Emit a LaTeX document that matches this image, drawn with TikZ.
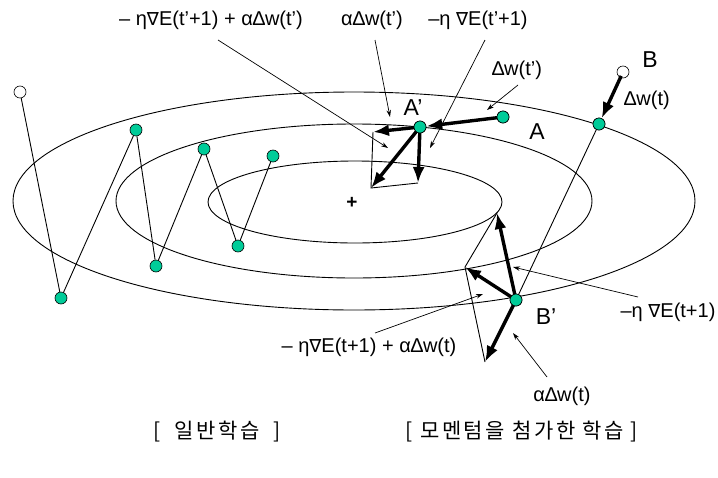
\documentclass[tikz,border=0pt]{standalone}
\usepackage{fontspec}
\setmainfont{Liberation Sans}
\newfontfamily\kofont[LetterSpace=12]{Noto Sans CJK KR}
\newfontfamily\symfont{DejaVu Sans}
\newcommand{\nabsym}{{\symfont\fontsize{18}{20}\selectfont ∇}}
\usetikzlibrary{arrows.meta}
\definecolor{ptgreen}{RGB}{0,204,153}
\tikzset{
  pt/.style={circle,draw=black,line width=0.6pt,fill=ptgreen,minimum size=12pt,inner sep=0pt},
  opt/.style={circle,draw=black,line width=0.6pt,fill=white,minimum size=12pt,inner sep=0pt},
  lbl/.style={font=\fontsize{20}{22}\selectfont,inner sep=0pt},
  biglbl/.style={font=\fontsize{23}{25}\selectfont,inner sep=0pt},
  kolbl/.style={font=\kofont\fontsize{21}{23}\selectfont,inner sep=0pt},
  contour/.style={line width=0.9pt},
  path/.style={line width=0.9pt},
  thickarr/.style={line width=3.4pt,-{Latex[length=16pt,width=12pt]},shorten <=-2pt},
  leader/.style={line width=0.7pt,-{Stealth[length=7pt,width=4.5pt]}},
}
\begin{document}
\begin{tikzpicture}[x=1pt,y=-1pt]
\useasboundingbox (0,0) rectangle (718,477);
% contours
\draw[contour] (354,201) ellipse [x radius=341pt, y radius=109pt];
\draw[contour] (354,201) ellipse [x radius=238pt, y radius=77pt];
\draw[contour] (355,202) ellipse [x radius=147pt, y radius=41pt];
\node[font=\fontsize{19}{21}\selectfont\bfseries,inner sep=0pt] (min) at (352,203) {+};

% ordinary learning path
\node[opt] (p0) at (20,92) {};
\node[pt] (p1) at (61,298) {};
\node[pt] (p2) at (136,130) {};
\node[pt] (p3) at (156,266) {};
\node[pt] (p4) at (204,149) {};
\node[pt] (p5) at (238,246) {};
\node[pt] (p6) at (273,156) {};
\draw[path] (p0) -- (p1) -- (p2) -- (p3) -- (p4) -- (p5) -- (p6);

% momentum: point A
\node[pt] (A) at (503,117) {};
\node[pt] (Ap) at (420,127) {};
\coordinate (a1) at (373,132);
\coordinate (a2) at (418,183);
\coordinate (a3) at (371,188);
\draw[path] (a1) -- (a3) -- (a2);
\draw[thickarr] (A) -- (Ap);
\draw[thickarr] (Ap) -- (a1);
\draw[thickarr] (Ap) -- (a2);
\draw[thickarr] (Ap) -- (a3);
\node[pt] at (A) {};
\node[pt] at (Ap) {};
\node[biglbl] (lA) at (537,132) {A};
\node[biglbl] (lAp) at (413,108) {A’};

% momentum: point B
\node[opt] (B) at (623,72) {};
\node[pt] (Bg) at (599,124) {};
\node[pt] (Bp) at (516,300) {};
\coordinate (b1) at (497,213);
\coordinate (b2) at (465,267);
\coordinate (b3) at (485,362);
\draw[path] (Bg) -- (Bp);
\draw[path] (b1) -- (b2) -- (b3);
\draw[thickarr] (B) -- (Bg);
\draw[thickarr] (Bp) -- (b1);
\draw[thickarr] (Bp) -- (b2);
\draw[thickarr] (Bp) -- (b3);
\node[pt] at (Bg) {};
\node[pt] at (Bp) {};
\node[biglbl] (lB) at (650,60) {B};
\node[biglbl] (lBp) at (546,317) {B’};

% labels
\node[lbl] (t1) at (211,20) {– η\nabsym E(t’+1) + α∆w(t’)};
\node[lbl] (t2) at (372,20) {α∆w(t’)};
\node[lbl] (t3) at (478,20) {–η \nabsym E(t’+1)};
\node[lbl] (t4) at (517,70) {∆w(t’)};
\node[lbl] (t5) at (647,100) {∆w(t)};
\node[lbl] (t6) at (668,312) {–η \nabsym E(t+1)};
\node[lbl] (t7) at (369,347) {– η\nabsym E(t+1) + α∆w(t)};
\node[lbl] (t8) at (562,396) {α∆w(t)};

\coordinate (s1) at (218,40);  \coordinate (e1) at (388,148);
\coordinate (s2) at (375,40);  \coordinate (e2) at (390,117);
\coordinate (s3) at (485,40);  \coordinate (e3) at (430,148);
\coordinate (s4) at (518,85);  \coordinate (e4) at (487,110);
\coordinate (s5) at (638,297); \coordinate (e5) at (513,267);
\coordinate (s6) at (375,333); \coordinate (e6) at (483,294);
\coordinate (s7) at (547,377); \coordinate (e7) at (513,333);
\draw[leader] (s1) -- (e1);
\draw[leader] (s2) -- (e2);
\draw[leader] (s3) -- (e3);
\draw[leader] (s4) -- (e4);
\draw[leader] (s5) -- (e5);
\draw[leader] (s6) -- (e6);
\draw[leader] (s7) -- (e7);

% captions
\node[kolbl] (k1) at (217,432) {[\hspace{14pt}일반학습\hspace{14pt}]};
\node[kolbl] (k2) at (522,432) {[ 모멘텀을 첨가한 학습 ]};
\end{tikzpicture}
\end{document}
